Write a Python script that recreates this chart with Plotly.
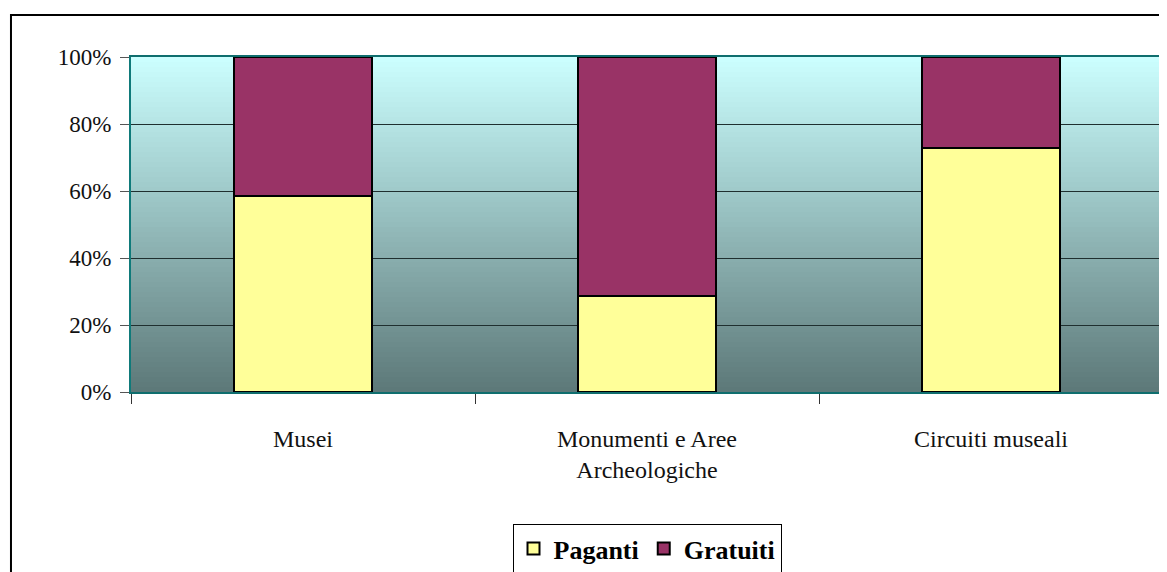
import plotly.graph_objects as go

categories = ["Musei", "Monumenti e Aree<br>Archeologiche", "Circuiti museali"]
paganti = [58.5, 28.7, 72.8]
gratuiti = [41.5, 71.3, 27.2]
y_ticks = [0, 20, 40, 60, 80, 100]
y_labels = ["0%", "20%", "40%", "60%", "80%", "100%"]

FONT = "Liberation Serif"

fig = go.Figure()
fig.add_trace(go.Bar(x=categories, y=paganti, name="Paganti",
                     marker=dict(color="#FFFF99", line=dict(color="black", width=2)),
                     width=0.404))
fig.add_trace(go.Bar(x=categories, y=gratuiti, name="Gratuiti",
                     marker=dict(color="#993366", line=dict(color="black", width=2)),
                     width=0.404))

# gradient background for the plot area
top = (204, 255, 255)
bot = (92, 120, 120)
n = 67
shapes = []
for i in range(n):
    t = (i + 0.5) / n
    c = tuple(round(top[k] + (bot[k] - top[k]) * t) for k in range(3))
    shapes.append(dict(type="rect", xref="x domain", yref="y domain",
                       x0=0, x1=1, y0=1 - (i + 1) / n - 0.002, y1=1 - i / n,
                       fillcolor="rgb(%d,%d,%d)" % c, line=dict(width=0), layer="below"))
# outer chart frame
shapes.append(dict(type="rect", xref="paper", yref="paper",
                   x0=-0.1163, x1=1.2, y0=-0.8, y1=1.1254,
                   line=dict(color="black", width=2), fillcolor="rgba(0,0,0,0)", layer="above"))

fig.update_layout(
    width=1159, height=564,
    margin=dict(l=123, r=4, t=49, b=180, autoexpand=False),
    barmode="stack",
    paper_bgcolor="white",
    plot_bgcolor="rgba(0,0,0,0)",
    font=dict(family=FONT, size=24, color="black"),
    shapes=shapes,
    showlegend=True,
    legend=dict(orientation="h", x=0.5, xanchor="center", y=-0.394, yanchor="top",
                bordercolor="black", borderwidth=1, bgcolor="white",
                font=dict(family=FONT, size=26, color="black", weight="bold"),
                itemwidth=30, traceorder="normal"),
)
fig.update_xaxes(type="category", showline=True, linecolor="#0f6e6e", linewidth=2, mirror=True,
                 ticks="outside", tickson="boundaries", ticklen=10, tickcolor="#333",
                 showgrid=False, ticklabelstandoff=24,
                 tickfont=dict(family=FONT, size=24, color="#111"))
fig.update_yaxes(range=[0, 100], tickvals=y_ticks, ticktext=y_labels,
                 showline=True, linecolor="#0f7a7a", linewidth=2, mirror=True,
                 ticks="outside", ticklen=9, tickcolor="#555",
                 showgrid=True, gridcolor="#1f2f2f", gridwidth=1,
                 ticklabelstandoff=4, zeroline=False,
                 tickfont=dict(family=FONT, size=23, color="#111"))

fig.write_html("out.html")
